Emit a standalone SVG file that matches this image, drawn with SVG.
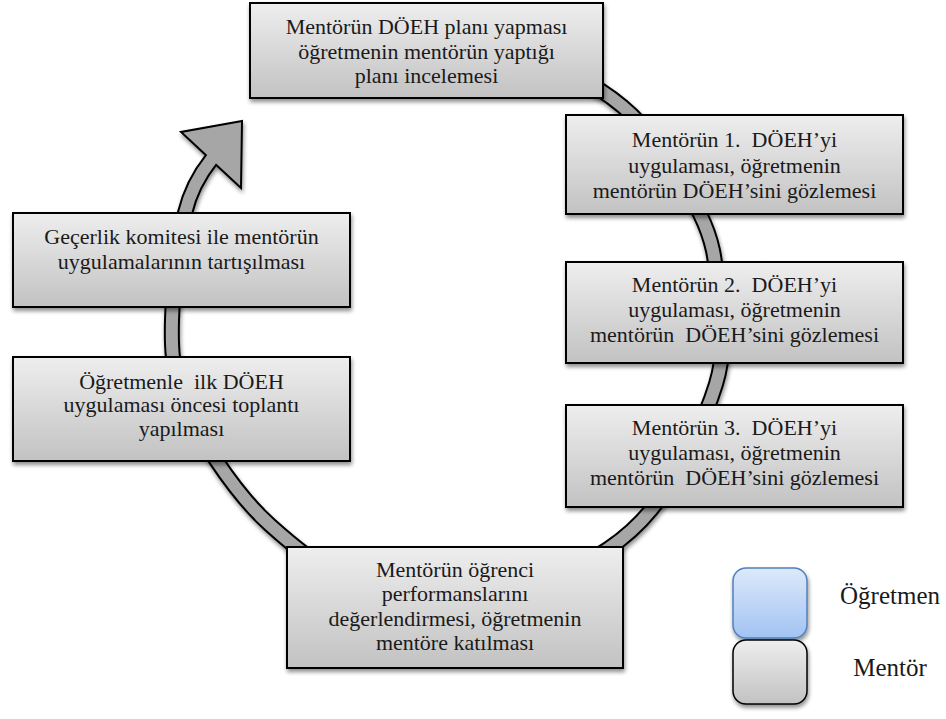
<svg xmlns="http://www.w3.org/2000/svg" width="946" height="719" viewBox="0 0 946 719">
  <defs>
    <linearGradient id="gGray" x1="0" y1="0" x2="0" y2="1">
      <stop offset="0" stop-color="#eeeeee"/>
      <stop offset="1" stop-color="#c2c2c2"/>
    </linearGradient>
    <linearGradient id="gBlue" x1="0" y1="0" x2="0" y2="1">
      <stop offset="0" stop-color="#dde9fa"/>
      <stop offset="1" stop-color="#a2c3f3"/>
    </linearGradient>
    <filter id="shadow" x="-10%" y="-10%" width="125%" height="135%">
      <feGaussianBlur in="SourceAlpha" stdDeviation="2"/>
      <feOffset dx="1" dy="3" result="off"/>
      <feComponentTransfer><feFuncA type="linear" slope="0.45"/></feComponentTransfer>
      <feMerge><feMergeNode/><feMergeNode in="SourceGraphic"/></feMerge>
    </filter>
    <style>
      .box { fill: url(#gGray); stroke: #000; stroke-width: 2; filter: url(#shadow); }
      .t { font-family: "Liberation Serif", "DejaVu Serif", serif; font-size: 22px; fill: #1a1a1a; text-anchor: middle; white-space: pre; }
      .lg { font-family: "Liberation Serif", "DejaVu Serif", serif; font-size: 25px; fill: #1a1a1a; text-anchor: middle; }
      .bandOut { fill: none; stroke: #000; stroke-width: 16; }
      .bandIn { fill: none; stroke: #a6a6a6; stroke-width: 12; }
      .head { fill: #a6a6a6; stroke: #000; stroke-width: 2; stroke-linejoin: miter; }
    </style>
  </defs>

  <rect width="946" height="719" fill="#ffffff"/>

  <!-- cycle arrow -->
  <g id="connectors" filter="url(#shadow)">
    <path class="bandOut" d="M540,58 C570.3,72.2 605.3,89 632,115 C658.7,141 685.7,184.8 700,214 C714.3,243.2 715.3,261.7 718,290 C720.7,318.3 727.2,347.3 716,384 C704.8,420.7 677,478.2 651,510 C625,541.8 592.7,560.3 560,575 C527.3,589.7 490,597.2 455,598 C420,598.8 380.8,592.2 350,580 C319.2,567.8 292.3,545 270,525 C247.7,505 231,482.5 216,460 C201,437.5 187.3,413.3 180,390 C172.7,366.7 171.2,349.5 172,320 C172.8,290.5 178.5,239.7 185,213 C191.5,186.3 202.3,170.9 211,160"/>
    <polygon class="head" points="242,121 181,132 205.2,154.5 216.8,165.5 241,188"/>
    <path class="bandIn" d="M540,58 C570.3,72.2 605.3,89 632,115 C658.7,141 685.7,184.8 700,214 C714.3,243.2 715.3,261.7 718,290 C720.7,318.3 727.2,347.3 716,384 C704.8,420.7 677,478.2 651,510 C625,541.8 592.7,560.3 560,575 C527.3,589.7 490,597.2 455,598 C420,598.8 380.8,592.2 350,580 C319.2,567.8 292.3,545 270,525 C247.7,505 231,482.5 216,460 C201,437.5 187.3,413.3 180,390 C172.7,366.7 171.2,349.5 172,320 C172.8,290.5 178.5,239.7 185,213 C191.5,186.3 202.3,170.9 211,160 l4,-6"/>
  </g>

  <!-- steps -->
  <g id="step1">
    <rect class="box" x="250" y="3" width="353" height="95"/>
    <text class="t"><tspan x="426.5" y="34">Mentörün DÖEH planı yapması</tspan><tspan x="426.5" y="58.5">öğretmenin mentörün yaptığı</tspan><tspan x="426.5" y="83">planı incelemesi</tspan></text>
  </g>
  <g id="step2">
    <rect class="box" x="566" y="115" width="337" height="99"/>
    <text class="t"><tspan x="734.5" y="147">Mentörün 1.  DÖEH’yi</tspan><tspan x="734.5" y="172.5">uygulaması, öğretmenin</tspan><tspan x="734.5" y="197.5">mentörün DÖEH’sini gözlemesi</tspan></text>
  </g>
  <g id="step3">
    <rect class="box" x="566" y="262" width="337" height="101"/>
    <text class="t"><tspan x="734.5" y="292">Mentörün 2.  DÖEH’yi</tspan><tspan x="734.5" y="317">uygulaması, öğretmenin</tspan><tspan x="734.5" y="342">mentörün  DÖEH’sini gözlemesi</tspan></text>
  </g>
  <g id="step4">
    <rect class="box" x="566" y="405" width="337" height="102"/>
    <text class="t"><tspan x="734.5" y="435">Mentörün 3.  DÖEH’yi</tspan><tspan x="734.5" y="460">uygulaması, öğretmenin</tspan><tspan x="734.5" y="485">mentörün  DÖEH’sini gözlemesi</tspan></text>
  </g>
  <g id="step5">
    <rect class="box" x="287" y="547" width="336" height="121"/>
    <text class="t"><tspan x="455" y="577">Mentörün öğrenci</tspan><tspan x="455" y="601">performanslarını</tspan><tspan x="455" y="625.5">değerlendirmesi, öğretmenin</tspan><tspan x="455" y="650">mentöre katılması</tspan></text>
  </g>
  <g id="step6">
    <rect class="box" x="13" y="357" width="337" height="104"/>
    <text class="t"><tspan x="181.5" y="388.5">Öğretmenle  ilk DÖEH</tspan><tspan x="181.5" y="412">uygulaması öncesi toplantı</tspan><tspan x="181.5" y="436">yapılması</tspan></text>
  </g>
  <g id="step7">
    <rect class="box" x="13" y="213" width="337" height="94"/>
    <text class="t"><tspan x="181.5" y="244">Geçerlik komitesi ile mentörün</tspan><tspan x="181.5" y="268.5">uygulamalarının tartışılması</tspan></text>
  </g>

  <!-- legend -->
  <g id="legend-teacher">
    <rect x="733" y="568" width="74" height="70" rx="13" fill="url(#gBlue)" stroke="#4f81bd" stroke-width="1.5" filter="url(#shadow)"/>
    <text class="lg" x="890" y="604">Öğretmen</text>
  </g>
  <g id="legend-mentor">
    <rect x="733" y="640" width="74" height="64" rx="13" fill="url(#gGray)" stroke="#000" stroke-width="1.5" filter="url(#shadow)"/>
    <text class="lg" x="890" y="676">Mentör</text>
  </g>
</svg>
